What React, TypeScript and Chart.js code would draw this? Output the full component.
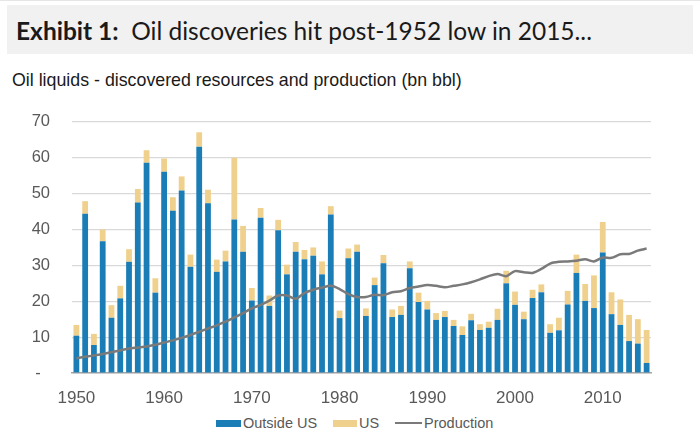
import React, { useEffect, useRef } from "react";
import { Chart, registerables } from "chart.js";

Chart.register(...registerables);

const years: number[] = [
  1950, 1951, 1952, 1953, 1954, 1955, 1956, 1957, 1958, 1959,
  1960, 1961, 1962, 1963, 1964, 1965, 1966, 1967, 1968, 1969,
  1970, 1971, 1972, 1973, 1974, 1975, 1976, 1977, 1978, 1979,
  1980, 1981, 1982, 1983, 1984, 1985, 1986, 1987, 1988, 1989,
  1990, 1991, 1992, 1993, 1994, 1995, 1996, 1997, 1998, 1999,
  2000, 2001, 2002, 2003, 2004, 2005, 2006, 2007, 2008, 2009,
  2010, 2011, 2012, 2013, 2014, 2015,
];

const outsideUS: number[] = [
  10.4, 44.4, 7.8, 36.7, 15.4, 20.8, 31.0, 47.5, 58.6, 22.4,
  56.1, 45.2, 50.9, 29.6, 63.1, 47.3, 28.2, 31.1, 42.8, 33.8,
  20.2, 43.3, 18.7, 39.8, 27.5, 33.8, 31.7, 32.7, 27.5, 44.2,
  15.3, 32.0, 33.8, 15.9, 24.5, 30.6, 15.6, 16.2, 29.2, 19.8,
  17.7, 14.8, 15.6, 13.1, 10.6, 14.7, 12.0, 12.6, 14.8, 25.0,
  19.0, 15.0, 20.9, 22.5, 11.2, 11.9, 19.1, 27.9, 20.1, 18.1,
  33.6, 16.4, 13.4, 8.9, 8.2, 2.8,
];

const us: number[] = [
  3.0, 3.5, 3.1, 3.3, 3.5, 3.5, 3.5, 3.8, 3.5, 4.0,
  3.7, 3.8, 3.9, 3.4, 4.0, 3.8, 3.4, 3.0, 17.2, 7.2,
  3.5, 2.7, 2.9, 2.9, 2.7, 2.7, 2.6, 2.3, 3.6, 2.3,
  2.1, 2.7, 2.0, 2.1, 2.1, 2.3, 2.1, 2.5, 1.9, 2.6,
  2.4, 1.9, 1.7, 1.7, 2.4, 1.8, 1.6, 1.7, 3.1, 3.5,
  3.7, 2.1, 2.3, 2.2, 2.4, 3.5, 3.8, 5.1, 4.7, 9.1,
  8.5, 6.1, 7.1, 7.3, 6.8, 9.2,
];

const production: number[] = [
  4.1, 4.5, 4.9, 5.3, 5.8, 6.3, 6.8, 7.1, 7.4, 7.9,
  8.5, 9.1, 9.8, 10.6, 11.5, 12.4, 13.3, 14.3, 15.5, 16.7,
  18.0, 19.0, 20.2, 21.6, 21.6, 20.7, 22.3, 23.2, 23.8, 24.3,
  23.4, 22.0, 21.2, 21.2, 21.8, 21.7, 22.5, 22.8, 23.7, 24.1,
  24.5, 24.3, 23.9, 24.3, 24.7, 25.3, 26.1, 27.0, 27.6, 27.0,
  28.4, 28.1, 27.9, 29.0, 30.5, 31.0, 31.1, 31.3, 31.7, 31.1,
  32.2, 32.1, 33.1, 33.2, 34.1, 34.7,
];

const yTicks: number[] = [0, 10, 20, 30, 40, 50, 60, 70];
const xTickYears: number[] = [1950, 1960, 1970, 1980, 1990, 2000, 2010];

const BLUE = "#1b7db6";
const TAN = "#efd08c";
const GREY_LINE = "#7a7a7a";
const TICK_COLOR = "#595959";

export default function App() {
  const canvasRef = useRef<HTMLCanvasElement | null>(null);

  useEffect(() => {
    document.body.style.margin = "0";
    const canvas = canvasRef.current;
    if (!canvas) return;
    const chart = new Chart(canvas, {
      type: "bar",
      data: {
        labels: years.map(String),
        datasets: [
          {
            type: "bar",
            label: "Outside US",
            data: outsideUS,
            backgroundColor: BLUE,
            stack: "disc",
            barPercentage: 0.66,
            categoryPercentage: 1,
            order: 2,
          },
          {
            type: "bar",
            label: "US",
            data: us,
            backgroundColor: TAN,
            stack: "disc",
            barPercentage: 0.66,
            categoryPercentage: 1,
            order: 2,
          },
          {
            type: "line",
            label: "Production",
            data: production,
            borderColor: GREY_LINE,
            borderWidth: 2.5,
            pointRadius: 0,
            tension: 0.3,
            fill: false,
            stack: "prod",
            order: 1,
          } as any,
        ],
      },
      options: {
        animation: false,
        responsive: false,
        maintainAspectRatio: false,
        layout: { padding: { top: 25, right: 49, left: 0, bottom: 0 } },
        plugins: {
          legend: { display: false },
          tooltip: { enabled: false },
        },
        scales: {
          x: {
            stacked: true,
            grid: { display: false },
            border: { display: true, color: "#a6a6a6", width: 1.5 },
            ticks: {
              autoSkip: false,
              maxRotation: 0,
              padding: 7,
              color: TICK_COLOR,
              font: { family: "'Liberation Sans', Arial, sans-serif", size: 17 },
              callback: function (_v: any, i: number) {
                const yr = years[i];
                return xTickYears.includes(yr) ? String(yr) : null;
              },
            },
            afterFit: (scale: any) => {
              scale.height = 39;
            },
          },
          y: {
            stacked: true,
            min: yTicks[0],
            max: yTicks[yTicks.length - 1],
            grid: { color: "#d9d9d9", lineWidth: 1.2, drawTicks: false },
            border: { display: false },
            ticks: {
              stepSize: 10,
              padding: 22,
              color: TICK_COLOR,
              font: { family: "'Liberation Sans', Arial, sans-serif", size: 16.5 },
              callback: (v: any) => (Number(v) === 0 ? "-  " : String(v)),
            },
            afterFit: (scale: any) => {
              scale.width = 72;
            },
          },
        },
      },
    });
    return () => chart.destroy();
  }, []);

  const legendFont = "'Liberation Sans', Arial, sans-serif";
  const legendText: React.CSSProperties = {
    position: "absolute",
    top: 413,
    height: 20,
    lineHeight: "20px",
    fontFamily: legendFont,
    fontSize: 14.5,
    color: TICK_COLOR,
    whiteSpace: "nowrap",
  };

  return (
    <div style={{ position: "relative", width: 700, height: 446, background: "#fff", overflow: "hidden" }}>
      <div style={{ position: "absolute", left: 0, top: 0, width: 700, height: 1, background: "#e6e6e6" }} />
      <div
        style={{
          position: "absolute",
          left: 7,
          top: 5,
          width: 686,
          height: 49,
          background: "#f1f1f1",
        }}
      />
      <div
        style={{
          position: "absolute",
          left: 16,
          top: 15.5,
          fontFamily: "Lato, 'Open Sans', sans-serif",
          fontSize: 24.5,
          lineHeight: "30px",
          color: "#1a1a1a",
          whiteSpace: "nowrap",
        }}
      >
        <span style={{ fontWeight: 700 }}>Exhibit 1:</span>
        <span>{"\u00a0 Oil discoveries hit post-1952 low in 2015..."}</span>
      </div>
      <div
        style={{
          position: "absolute",
          left: 12,
          top: 69,
          fontFamily: "'Liberation Sans', Arial, sans-serif",
          fontSize: 17.8,
          lineHeight: "22px",
          color: "#1a1a1a",
          whiteSpace: "nowrap",
        }}
      >
        Oil liquids - discovered resources and production (bn bbl)
      </div>
      <canvas
        ref={canvasRef}
        width={700}
        height={322}
        style={{ position: "absolute", left: 0, top: 90, width: 700, height: 322 }}
      />
      <div style={{ position: "absolute", left: 216, top: 419.5, width: 25, height: 7, background: BLUE }} />
      <div style={{ ...legendText, left: 243 }}>Outside US</div>
      <div style={{ position: "absolute", left: 333, top: 419.5, width: 24, height: 7, background: TAN }} />
      <div style={{ ...legendText, left: 359 }}>US</div>
      <div style={{ position: "absolute", left: 395, top: 422, width: 27, height: 2, background: GREY_LINE }} />
      <div style={{ ...legendText, left: 424 }}>Production</div>
    </div>
  );
}
